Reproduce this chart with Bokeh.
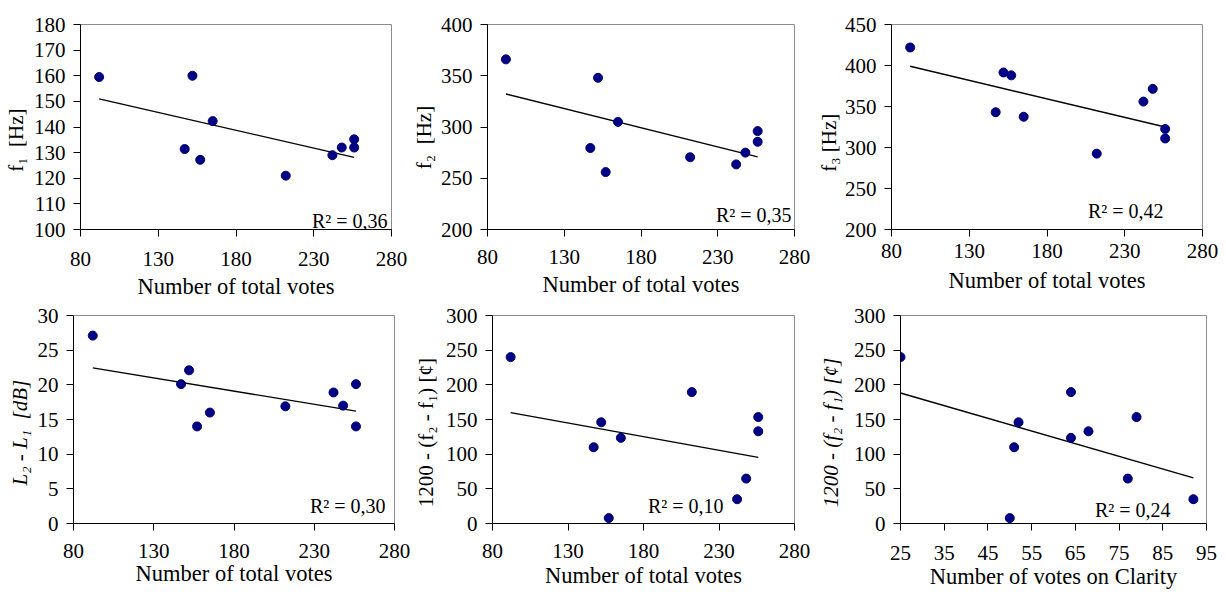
import numpy as np
from bokeh.plotting import figure
from bokeh.models import Range1d, FixedTicker, Label
from bokeh.layouts import row, column
from bokeh.embed import file_html
from bokeh.resources import INLINE

# ---------------- data ----------------
total_votes   = [92, 152, 165, 147, 157, 212, 242, 248, 256, 256]
clarity_votes = [25, 52, 64, 51, 50, 64, 92, 77, 79, 68]
f1_hz         = [159.5, 160.0, 142.3, 131.4, 127.2, 121.0, 129.0, 132.0, 135.2, 132.0]
f2_hz         = [366.0, 348.0, 305.0, 279.5, 256.0, 270.5, 263.5, 275.0, 296.0, 285.6]
f3_hz         = [422.0, 391.5, 337.5, 343.0, 388.0, 292.5, 356.0, 371.5, 322.5, 311.0]
level_diff_db = [27.1, 22.1, 16.0, 20.1, 14.0, 16.9, 18.9, 17.0, 20.1, 14.0]
interval_dev  = [240.0, 146.0, 123.5, 110.0, 7.8, 189.5, 35.0, 64.8, 153.5, 133.0]

r2_texts = ["R\u00b2 = 0,36", "R\u00b2 = 0,35", "R\u00b2 = 0,42",
            "R\u00b2 = 0,30", "R\u00b2 = 0,10", "R\u00b2 = 0,24"]
xlabel_total = "Number of total votes"
xlabel_clarity = "Number of votes on Clarity"
ylabels = ["f\u2081\u00a0 [Hz]", "f\u2082\u00a0 [Hz]", "f\u2083 [Hz]",
           "L\u2082 - L\u2081\u00a0 [dB]", "1200 - (f\u2082 - f\u2081) [\u00a2]",
           "1200 - (f\u2082 - f\u2081) [\u00a2]"]

ticks_votes = [80, 130, 180, 230, 280]
ticks_clarity = [25, 35, 45, 55, 65, 75, 85, 95]
ticks_f1 = [100, 110, 120, 130, 140, 150, 160, 170, 180]
ticks_f2 = [200, 250, 300, 350, 400]
ticks_f3 = [200, 250, 300, 350, 400, 450]
ticks_db = [0, 5, 10, 15, 20, 25, 30]
ticks_cents = [0, 50, 100, 150, 200, 250, 300]

SERIF = "Liberation Serif"
NBSP = "\u00a0"


def panel(xv, yv, xr, yr, xt, yt, W, H, L, R, T, B, xlab, xs_tick, xs_lab,
          ylab, ystyle, ystand, ypad, r2, r2_dx, r2_dy):
    p = figure(width=W, height=H, x_range=Range1d(*xr), y_range=Range1d(*yr),
               output_backend="svg", toolbar_location=None,
               min_border_left=L, min_border_right=R, min_border_top=T,
               min_border_bottom=B)
    p.xgrid.visible = False
    p.ygrid.visible = False
    p.outline_line_color = "#8c8c8c"
    p.outline_line_width = 1
    for ax in (p.xaxis[0], p.yaxis[0]):
        ax.axis_line_color = "black"
        ax.axis_line_width = 1
        ax.major_tick_line_color = "black"
        ax.major_tick_in = 0
        ax.major_tick_out = 7
        ax.minor_tick_line_color = None
        ax.major_label_text_font = SERIF
        ax.major_label_text_font_size = "21px"
        ax.major_label_text_color = "black"
        ax.axis_label_text_font = SERIF
        ax.axis_label_text_color = "black"
    xa, ya = p.xaxis[0], p.yaxis[0]
    xa.major_label_standoff = xs_tick
    xa.axis_label = xlab
    xa.axis_label_text_font_size = "22.5px"
    xa.axis_label_text_font_style = "normal"
    xa.axis_label_standoff = xs_lab
    ya.major_label_standoff = 8
    # trailing no-break spaces move the centred title down to where the
    # reference places it
    ya.axis_label = ylab + NBSP * ypad
    ya.axis_label_text_font_size = "21px"
    ya.axis_label_text_font_style = ystyle
    ya.axis_label_standoff = ystand
    xa.ticker = FixedTicker(ticks=xt)
    ya.ticker = FixedTicker(ticks=yt)

    x = np.array(xv, dtype=float)
    y = np.array(yv, dtype=float)
    k, b = np.polyfit(x, y, 1)
    xs = np.array([x.min(), x.max()])
    p.line(xs, k * xs + b, line_color="black", line_width=1.4)
    p.scatter(x, y, size=9, fill_color="#000080", line_color="#000080")

    fw = W - L - R
    p.add_layout(Label(x=fw - r2_dx, y=r2_dy, x_units="screen", y_units="screen",
                       text=r2, text_font=SERIF, text_font_size="20px",
                       text_align="right", text_baseline="alphabetic",
                       text_color="black"))
    return p


H1, H2 = 304, 288

p1 = panel(total_votes, f1_hz, (80, 280), (100, 180), ticks_votes, ticks_f1,
           408, H1, 78, 17, 19, 75, xlabel_total, 15, 5,
           ylabels[0], "normal", 3, 5, r2_texts[0], 6, 9)
p2 = panel(total_votes, f2_hz, (80, 280), (200, 400), ticks_votes, ticks_f2,
           405, H1, 73, 19, 16, 73, xlabel_total, 13, 5,
           ylabels[1], "normal", 2, 4, r2_texts[1], 9, 15)
p3 = panel(total_votes, f3_hz, (80, 280), (200, 450), ticks_votes, ticks_f3,
           413, H1, 74, 24, 24, 67, xlabel_total, 7, 7,
           ylabels[2], "normal", 1, 6, r2_texts[2], 43, 19)

p4 = panel(total_votes, level_diff_db, (80, 280), (0, 30), ticks_votes, ticks_db,
           410, H2, 73, 16, 7, 69, xlabel_total, 13, 0,
           ylabels[3], "italic", 3, 5, r2_texts[3], 9, 18)
p5 = panel(total_votes, interval_dev, (80, 280), (0, 300), ticks_votes, ticks_cents,
           405, H2, 76, 21, 9, 68, xlabel_total, 13, 2,
           ylabels[4], "normal", 5, 5, r2_texts[4], 77, 18)
p6 = panel(clarity_votes, interval_dev, (25, 95), (0, 300), ticks_clarity, ticks_cents,
           411, H2, 82, 20, 11, 69, xlabel_clarity, 15, 1,
           ylabels[5], "italic", 8, 5, r2_texts[5], 39, 14)

layout = column(row(p1, p2, p3), row(p4, p5, p6))
open("out.html", "w").write(file_html(layout, INLINE))
